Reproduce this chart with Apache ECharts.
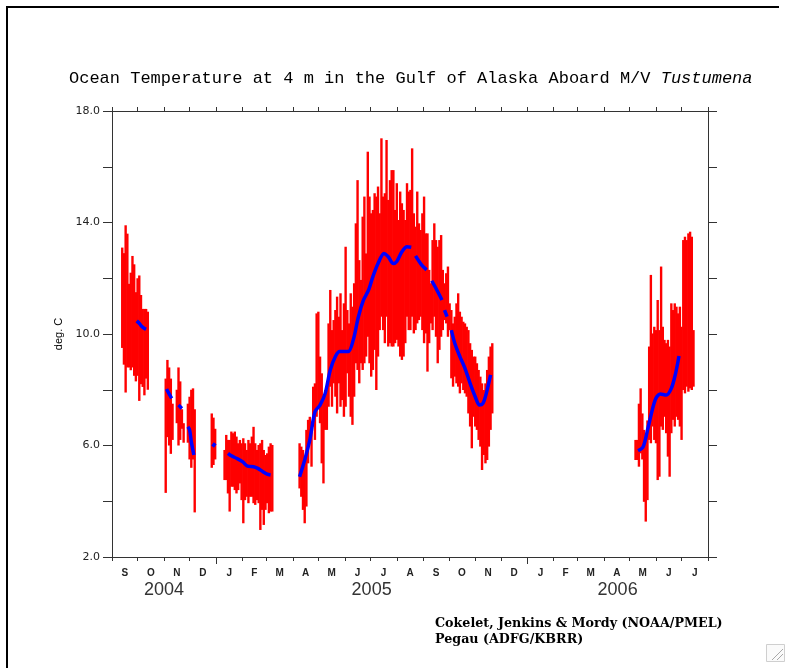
<!DOCTYPE html>
<html>
<head>
<meta charset="utf-8">
<script src="https://cdn.jsdelivr.net/npm/echarts@6/dist/echarts.min.js"></script>
<style>html,body{margin:0;padding:0;background:#fff}#c{width:787px;height:668px}</style>
</head>
<body>
<div id="c"></div>
<script>
// ---- tick labels ----
const monthStarts = ['2004-09-01','2004-10-01','2004-11-01','2004-12-01','2005-01-01','2005-02-01','2005-03-01','2005-04-01','2005-05-01','2005-06-01','2005-07-01','2005-08-01','2005-09-01','2005-10-01','2005-11-01','2005-12-01','2006-01-01','2006-02-01','2006-03-01','2006-04-01','2006-05-01','2006-06-01','2006-07-01','2006-08-01'];
const monthLetters = ['S','O','N','D','J','F','M','A','M','J','J','A','S','O','N','D','J','F','M','A','M','J','J'];
const yearTicks = ['2005-01-01','2006-01-01'];
const yearLabels = ['2004','2005','2006'];
const yearSpanStart = ['2004-09-01','2005-01-01','2006-01-01'];
const yearSpanEnd = ['2005-01-01','2006-01-01','2006-08-01'];

// ---- red: sampled every 2 days, low / high temperature of raw record ----
const redStarts = ['2004-09-13','2004-11-03','2004-11-16','2004-11-29','2004-12-27','2005-01-11','2005-04-09','2006-05-08'];
const redHi1 = [13.1,12.9,13.9,13.6,11.8,12.2,12.8,12.5,11.5,12.0,12.1,11.4,10.9,10.9,10.9,10.8];
const redLo1 = [9.5,8.9,7.9,8.8,8.8,8.7,8.8,8.5,8.3,8.5,7.6,8.2,8.1,7.8,8.4,8.0];
const redHi2 = [8.4,9.07,8.8,8.4,7.5];
const redLo2 = [4.3,6.3,6.0,5.7,6.2];
const redHi3 = [8.0,8.8,8.3,7.3,6.8];
const redLo3 = [6.8,6.0,6.2,6.6,6.1];
const redHi4 = [7.5,7.75,8.0,8.05,7.3];
const redLo4 = [6.1,5.5,5.2,5.5,3.6];
const redHi5 = [7.15,7.0,6.6];
const redLo5 = [5.2,5.3,5.5];
const redHi6 = [5.84,6.38,6.2,6.2,6.5,6.44,6.5,6.32,6.08,6.2,6.08,6.26,6.08,5.84,6.2,6.08,6.32,6.67,6.08,5.84,6.02,6.08,6.2,5.84,5.66,5.72,5.96,6.08,6.02];
const redLo6 = [4.76,4.76,4.28,3.63,4.52,4.52,4.4,4.28,4.4,4.64,4.04,3.21,4.04,4.16,3.93,4.16,4.16,3.93,3.87,4.04,3.93,2.97,3.69,3.15,3.69,3.93,3.57,3.63,3.63];
const redHi7 = [6.08,5.96,5.84,5.6,6.56,6.92,7.03,6.56,8.11,8.23,
 10.74,10.8,9.19,8.59,7.75,7.99,7.99,10.38,11.58,10.14,
 10.5,10.86,11.34,10.62,11.46,10.14,11.1,13.13,10.86,10.38,
 11.46,10.98,11.82,13.97,15.52,12.65,11.94,14.21,14.93,12.89,
 16.54,14.93,14.33,14.45,15.05,14.93,15.29,14.33,17.02,14.93,
 15.05,16.96,14.81,15.52,15.88,15.88,14.45,15.41,14.09,15.11,
 14.69,14.45,14.09,15.41,15.11,15.17,16.66,14.33,13.85,15.11,
 13.97,13.73,14.33,14.93,13.61,13.61,12.3,11.82,13.37,13.97,
 13.37,13.13,13.37,13.55,12.3,11.82,12.18,12.42,11.1,10.86,
 10.38,10.62,11.1,11.46,10.8,10.62,10.44,10.38,10.26,10.14,
 9.67,9.43,9.19,9.19,8.95,8.71,8.47,8.23,7.99,8.23,
 8.71,9.19,9.55,9.67];
const redLo7 = [4.46,4.16,3.69,3.21,3.81,5.36,6.08,5.24,6.68,6.2,
 7.03,7.39,6.8,5.36,4.64,6.56,6.56,7.39,8.11,7.39,
 8.23,7.75,7.15,8.23,7.39,7.63,7.03,7.39,8.59,7.75,
 7.03,6.74,7.75,8.95,8.71,8.23,8.95,8.71,8.95,9.19,
 9.9,8.95,8.47,8.71,9.43,7.99,9.19,10.14,10.62,10.14,
 9.67,10.62,9.55,9.67,9.55,9.55,9.67,9.79,9.55,9.19,
 9.07,9.19,9.67,10.62,10.14,10.14,10.62,10.02,10.14,10.38,
 10.5,10.62,10.14,9.67,10.02,8.65,9.67,10.38,10.14,10.62,
 9.9,8.95,9.43,9.9,10.14,10.5,10.38,9.9,10.14,8.41,
 8.11,8.47,8.23,8.11,7.87,8.23,7.99,7.87,7.75,7.15,
 6.68,5.9,7.03,6.68,6.56,6.2,5.96,5.12,5.66,5.36,
 5.48,5.96,6.56,7.15];
const redHi8 = [6.2,6.2,7.5,8.05,7.15,6.56,6.44,6.9,9.55,12.12,
 10.02,10.26,10.14,11.22,10.14,12.42,10.26,9.79,9.67,9.79,
 9.55,11.1,10.86,11.1,10.98,10.74,10.98,10.26,13.37,13.49,
 13.37,13.61,13.67,13.49,10.14];
const redLo8 = [5.48,5.48,5.24,5.72,5.5,3.98,3.27,4.04,6.2,6.08,
 6.68,6.2,6.08,4.76,4.88,6.68,6.56,7.03,6.44,5.6,
 4.88,6.44,6.92,6.68,7.03,6.92,6.68,6.2,7.99,7.87,
 8.11,7.93,8.05,7.99,8.11];

// ---- blue: smoothed temperature (null = gap) ----
const blueDates = ['2004-09-30','2004-10-03','2004-10-06','2004-10-09','2004-10-11','2004-10-20',
 '2004-11-04','2004-11-07','2004-11-10','2004-11-14',
 '2004-11-18','2004-11-22','2004-11-26',
 '2004-11-29','2004-12-01','2004-12-03','2004-12-06','2004-12-15',
 '2004-12-28','2004-12-31','2005-01-08',
 '2005-01-15','2005-01-19','2005-01-25','2005-02-01','2005-02-07','2005-02-14','2005-02-19','2005-02-25','2005-03-02','2005-03-06','2005-03-20',
 '2005-04-09','2005-04-15','2005-04-21','2005-04-27','2005-05-03','2005-05-09','2005-05-15','2005-05-21','2005-05-26','2005-06-05',
 '2005-06-11','2005-06-17','2005-06-23','2005-06-29','2005-07-04','2005-07-10','2005-07-17','2005-07-22','2005-07-28','2005-08-01',
 '2005-08-07','2005-08-13','2005-08-18','2005-08-20','2005-08-23','2005-08-30','2005-09-05','2005-09-08',
 '2005-09-11','2005-09-17','2005-09-23','2005-09-25','2005-09-26','2005-09-29','2005-10-01',
 '2005-10-04','2005-10-08','2005-10-14','2005-10-20','2005-10-26','2005-11-01','2005-11-06','2005-11-10','2005-11-14','2005-11-19','2005-12-10',
 '2006-05-11','2006-05-17','2006-05-23','2006-05-31','2006-06-06','2006-06-13','2006-06-19','2006-06-24','2006-06-28'];
const blueTemps = [10.47,10.38,10.27,10.2,10.17,null,
 8.03,7.85,7.69,null,
 7.45,7.33,null,
 6.67,6.56,6.14,5.66,null,
 5.96,6.08,null,
 5.72,5.63,5.54,5.42,5.26,5.24,5.18,5.06,4.97,4.94,null,
 4.88,5.48,6.2,7.21,7.45,7.87,8.71,9.19,9.37,9.37,
 9.79,10.62,11.22,11.58,12.06,12.53,12.89,12.77,12.53,12.6,
 12.95,13.13,13.11,null,12.8,12.48,12.3,null,
 11.91,11.58,11.22,null,10.86,10.62,null,
 10.14,9.67,9.19,8.77,8.23,7.75,7.45,7.51,7.87,8.53,null,
 5.81,5.96,6.68,7.63,7.85,7.81,8.05,8.59,9.21];

// ---- build ----
const DAY = 86400000;
const t = s => new Date(s + 'T00:00:00').getTime();
const redHis = [redHi1,redHi2,redHi3,redHi4,redHi5,redHi6,redHi7,redHi8];
const redLos = [redLo1,redLo2,redLo3,redLo4,redLo5,redLo6,redLo7,redLo8];
let redData = [];
redStarts.forEach((s, k) => {
  const s0 = t(s);
  redLos[k].forEach((lo, i) => redData.push([s0 + i * 2 * DAY, lo, redHis[k][i]]));
});
const blueData = blueDates.map((d, i) => [t(d), blueTemps[i] == null ? '-' : blueTemps[i]]);

const monthTicks = monthStarts.map(t);
const monthMid = monthLetters.map((m, i) => (monthTicks[i] + monthTicks[i + 1]) / 2);
const yearMid = yearLabels.map((y, i) => (t(yearSpanStart[i]) + t(yearSpanEnd[i])) / 2);
const xMin = monthTicks[0], xMax = monthTicks[monthTicks.length - 1];

const axisCol = '#333';
const chart = echarts.init(document.getElementById('c'));
chart.setOption({
  animation: false,
  backgroundColor: '#fff',
  title: {
    text: '{n|Ocean Temperature at 4 m in the Gulf of Alaska Aboard M/V }{i|Tustumena}',
    left: 64, top: 65,
    textStyle: {
      fontWeight: 'normal',
      rich: {
        n: {fontFamily: 'Liberation Mono', fontSize: 17, fontWeight: 'normal', color: '#000'},
        i: {fontFamily: 'Liberation Mono', fontSize: 17, fontWeight: 'normal', fontStyle: 'italic', color: '#000'}
      }
    }
  },
  grid: {left: 112, top: 111, right: 79, bottom: 111, containLabel: false},
  xAxis: [
    {
      type: 'value', position: 'bottom', min: xMin, max: xMax, scale: true,
      axisLine: {show: true, onZero: false, lineStyle: {color: axisCol, width: 1}},
      axisTick: {show: true, length: 4, customValues: monthTicks, lineStyle: {color: axisCol}},
      axisLabel: {show: true, customValues: monthMid, margin: 11,
        formatter: (v) => { const i = monthMid.findIndex(m => Math.abs(m - v) < DAY); return i >= 0 ? monthLetters[i] : ''; },
        fontFamily: 'Liberation Sans', fontSize: 10, fontWeight: 'bold', color: '#222'},
      splitLine: {show: false}
    },
    {
      type: 'value', position: 'bottom', min: xMin, max: xMax, scale: true,
      axisLine: {show: false, onZero: false},
      axisTick: {show: true, length: 7, customValues: yearTicks.map(t), lineStyle: {color: axisCol}},
      axisLabel: {show: true, customValues: yearMid, margin: 24,
        formatter: (v) => { const i = yearMid.findIndex(m => Math.abs(m - v) < DAY); return i >= 0 ? yearLabels[i] : ''; },
        fontFamily: 'Liberation Sans', fontSize: 18, color: '#333'},
      splitLine: {show: false}
    },
    {
      type: 'value', position: 'top', min: xMin, max: xMax, scale: true,
      axisLine: {show: true, onZero: false, lineStyle: {color: axisCol, width: 1}},
      axisTick: {show: true, length: 4, customValues: monthTicks, lineStyle: {color: axisCol}},
      axisLabel: {show: false},
      splitLine: {show: false}
    }
  ],
  yAxis: [
    {
      type: 'value', position: 'left', min: 2, max: 18, interval: 2,
      name: 'deg. C', nameLocation: 'middle', nameRotate: 90, nameGap: 44,
      nameTextStyle: {fontFamily: 'Liberation Sans', fontSize: 11, color: '#000'},
      axisLine: {show: true, onZero: false, lineStyle: {color: axisCol, width: 1}},
      axisTick: {show: true, length: 9, lineStyle: {color: axisCol}},
      axisLabel: {margin: 12, fontFamily: 'DejaVu Sans', fontSize: 11, color: '#222',
        formatter: v => (Math.round(v) % 4 === 2 ? v.toFixed(1) : '')},
      splitLine: {show: false}
    },
    {
      type: 'value', position: 'right', min: 2, max: 18, interval: 2,
      axisLine: {show: true, onZero: false, lineStyle: {color: axisCol, width: 1}},
      axisTick: {show: true, length: 9, lineStyle: {color: axisCol}},
      axisLabel: {show: false},
      splitLine: {show: false}
    }
  ],
  series: [
    {
      type: 'custom', xAxisIndex: 0, yAxisIndex: 0, clip: true,
      encode: {x: 0, y: [1, 2]},
      data: redData,
      renderItem: (params, api) => {
        const p1 = api.coord([api.value(0), api.value(1)]);
        const p2 = api.coord([api.value(0), api.value(2)]);
        return {type: 'line', shape: {x1: p1[0], y1: p1[1], x2: p2[0], y2: p2[1]},
          style: {stroke: '#ff0000', lineWidth: 2.4}};
      },
      z: 2
    },
    {
      type: 'line', xAxisIndex: 0, yAxisIndex: 0, data: blueData,
      showSymbol: false, smooth: 0.3, connectNulls: false,
      lineStyle: {color: '#0000ff', width: 3.5}, z: 3
    }
  ],
  graphic: [
    {type: 'polyline', shape: {points: [[7, 668], [7, 7], [779, 7]]}, style: {stroke: '#000', lineWidth: 2, fill: null}},
    {type: 'text', left: 435, top: 617, style: {text: 'Cokelet, Jenkins & Mordy (NOAA/PMEL)', font: 'bold 12.7px "DejaVu Serif"', fill: '#000'}},
    {type: 'text', left: 435, top: 633, style: {text: 'Pegau (ADFG/KBRR)', font: 'bold 12.7px "DejaVu Serif"', fill: '#000'}},
    {type: 'rect', shape: {x: 766.5, y: 644.5, width: 18, height: 17}, style: {stroke: '#cfcfcf', fill: '#fafafa', lineWidth: 1}},
    {type: 'line', shape: {x1: 772, y1: 660, x2: 783, y2: 649}, style: {stroke: '#a8a8a8', lineWidth: 1}},
    {type: 'line', shape: {x1: 777, y1: 660, x2: 783, y2: 654}, style: {stroke: '#a8a8a8', lineWidth: 1}}
  ]
});
</script>
</body>
</html>
